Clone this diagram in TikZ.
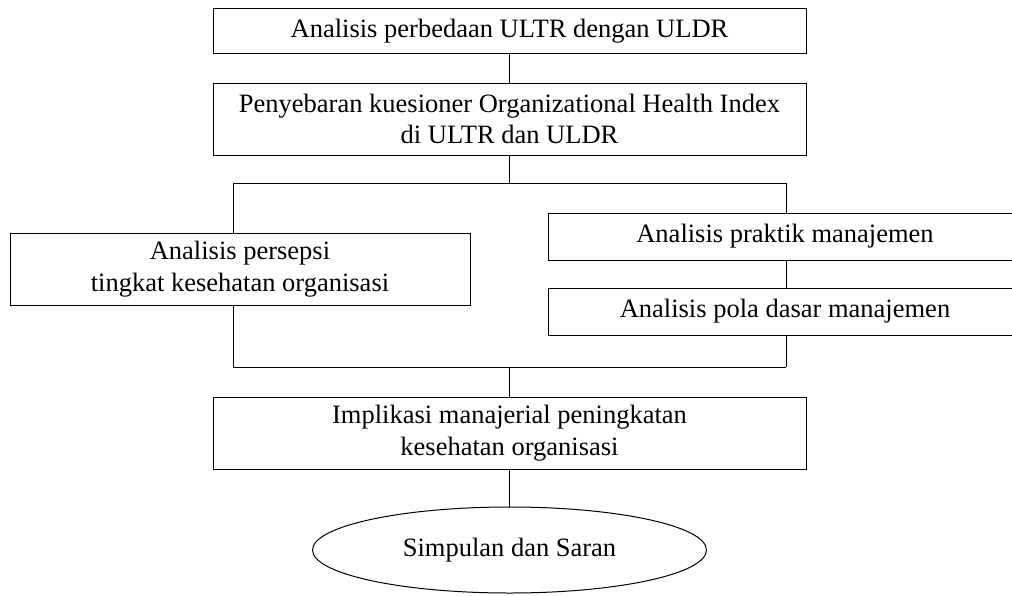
\documentclass[tikz,border=0pt]{standalone}
\usepackage{fontspec}
\setmainfont{Liberation Serif}
\usepackage{tikz}
\usetikzlibrary{positioning, shapes.geometric}

\tikzset{
  kotak/.style={draw, line width=1pt, rectangle, inner sep=0pt, align=center,
    minimum height=45pt, minimum width=593pt},
  bulat/.style={draw, line width=1pt, ellipse, inner sep=0pt,
    minimum width=394pt, minimum height=86pt},
  garis/.style={line width=1pt}
}

\begin{document}
\begin{tikzpicture}[x=1pt, y=-1pt]
    \useasboundingbox (0,0) rectangle (1012,595);
    \fontsize{26.5}{31.8}\selectfont

    \node (beda) at (509.5,31) [kotak]{Analisis perbedaan ULTR dengan ULDR};
    \node (sebar) at (509.5,119) [kotak, minimum height=72pt]{Penyebaran kuesioner Organizational Health Index\\di ULTR dan ULDR};
    \node (persepsi) at (240,269) [kotak, minimum width=460pt, minimum height=72pt]{Analisis persepsi\\tingkat kesehatan organisasi};
    \node (praktik) at (785,236.5) [kotak, minimum width=474pt, minimum height=47pt]{Analisis praktik manajemen};
    \node (pola) at (785,311.5) [kotak, minimum width=474pt, minimum height=47pt]{Analisis pola dasar manajemen};
    \node (implikasi) at (509.5,433) [kotak, minimum height=72pt]{Implikasi manajerial peningkatan\\kesehatan organisasi};
    \node (simpulan) at (509.5,550) [bulat]{Simpulan dan Saran};

    % cabang atas
    \coordinate (cabang) at (509.5,183);
    \coordinate (cabangL) at (233,183);
    \coordinate (cabangR) at (786,183);
    % gabung bawah
    \coordinate (gabung) at (509.5,367);
    \coordinate (gabungL) at (233,367);
    \coordinate (gabungR) at (786,367);

    \draw [garis] (beda)--(sebar);
    \draw [garis] (sebar)--(cabang);
    \draw [garis] (cabangL)--(cabangR);
    \draw [garis] (cabangL)--(cabangL |- persepsi.north);
    \draw [garis] (cabangR)--(cabangR |- praktik.north);
    \draw [garis] (praktik.south -| cabangR)--(pola.north -| cabangR);
    \draw [garis] (persepsi.south -| gabungL)--(gabungL);
    \draw [garis] (pola.south -| gabungR)--(gabungR);
    \draw [garis] (gabungL)--(gabungR);
    \draw [garis] (gabung)--(implikasi);
    \draw [garis] (implikasi)--(simpulan);

\end{tikzpicture}
\end{document}
